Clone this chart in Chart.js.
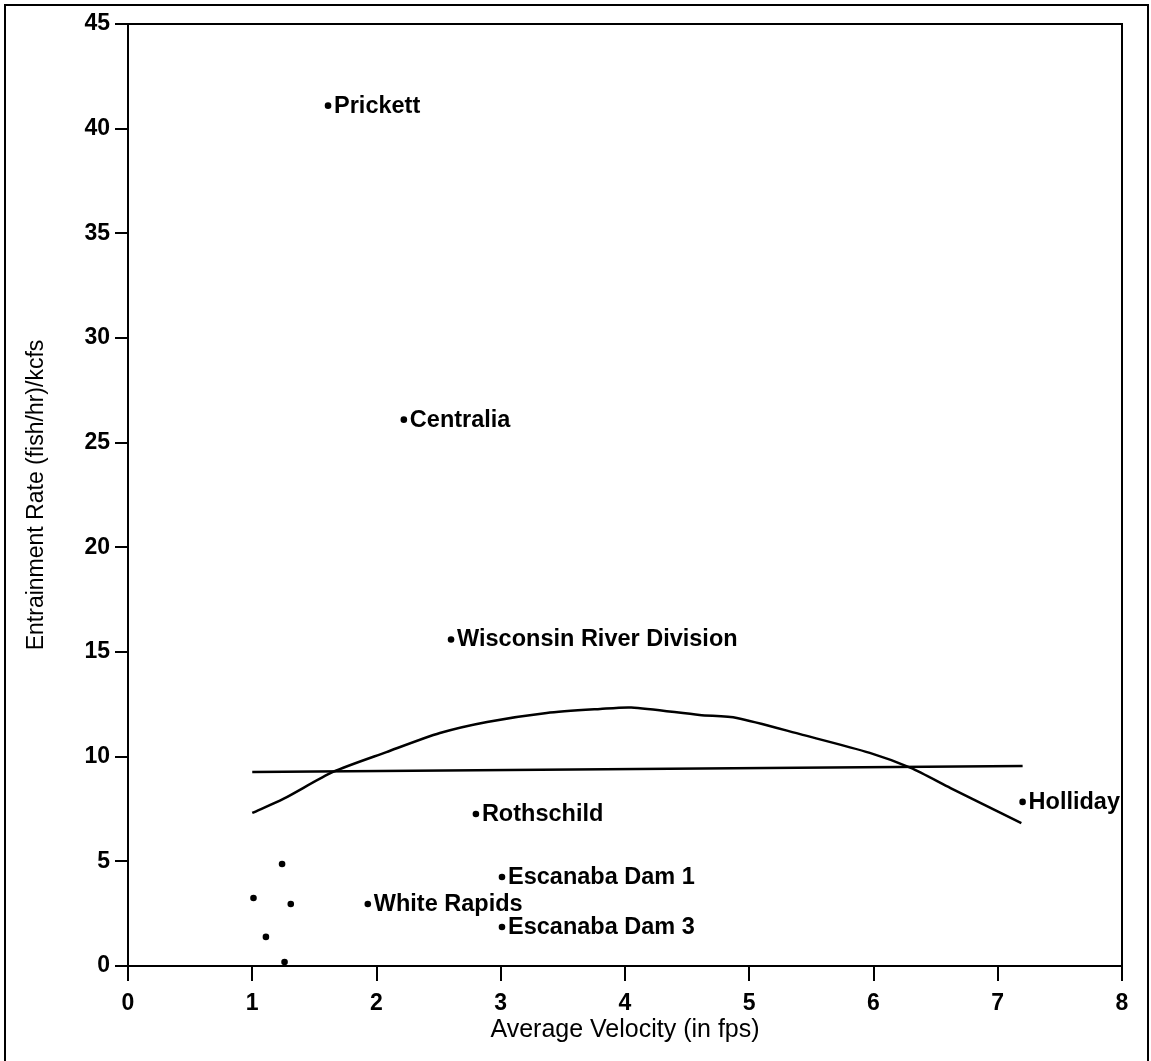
<!DOCTYPE html>
<html>
<head>
<meta charset="utf-8">
<script src="https://cdn.jsdelivr.net/npm/chart.js@4"></script>
<style>
  html, body { margin: 0; padding: 0; background: #fff; }
  #wrap { width: 1151px; height: 1061px; position: relative; }
</style>
</head>
<body>
<div id="wrap"><canvas id="c" width="1151" height="1061"></canvas></div>
<script>
// ---- Data ----
const siteNames = ['Prickett', 'Centralia', 'Wisconsin River Division', 'Rothschild',
  'Escanaba Dam 1', 'White Rapids', 'Escanaba Dam 3', 'Holliday', '', '', '', '', ''];
const siteVelocity = [1.61, 2.22, 2.60, 2.80, 3.01, 1.93, 3.01, 7.20, 1.24, 1.01, 1.31, 1.11, 1.26];
const siteRate = [41.1, 26.1, 15.6, 7.26, 4.25, 2.96, 1.86, 7.84, 4.87, 3.25, 2.96, 1.39, 0.19];

const curveVelocity = [1.0, 1.25, 1.65, 2.08, 2.51, 2.89, 3.37, 3.80, 4.05, 4.60, 4.90, 5.43, 5.97, 6.30, 6.62, 7.19];
const curveRate = [7.31, 7.98, 9.27, 10.22, 11.13, 11.66, 12.09, 12.28, 12.35, 11.99, 11.85, 11.04, 10.18, 9.46, 8.50, 6.83];

const linearVelocity = [1.0, 7.2];
const linearRate = [9.27, 9.56];

const xTickValues = [0, 1, 2, 3, 4, 5, 6, 7, 8];
const yTickValues = [0, 5, 10, 15, 20, 25, 30, 35, 40, 45];

const xTitle = 'Average Velocity (in fps)';
const yTitle = 'Entrainment Rate (fish/hr)/kcfs';

// ---- Build ----
const toXY = (xs, ys) => xs.map((x, i) => ({ x: x, y: ys[i] }));

const FONT = "'Liberation Sans', Arial, Helvetica, sans-serif";

const pointLabelPlugin = {
  id: 'pointLabels',
  afterDatasetsDraw(chart) {
    const ctx = chart.ctx;
    const meta = chart.getDatasetMeta(0);
    ctx.save();
    ctx.fillStyle = '#000';
    ctx.font = 'bold 23.5px ' + FONT;
    ctx.textAlign = 'left';
    ctx.textBaseline = 'alphabetic';
    meta.data.forEach((pt, i) => {
      const name = siteNames[i];
      if (!name) return;
      ctx.fillText(name, pt.x + 6, pt.y + 7);
    });
    ctx.restore();
  }
};

const framePlugin = {
  id: 'frame',
  afterDraw(chart) {
    const ctx = chart.ctx;
    const a = chart.chartArea;
    ctx.save();
    ctx.strokeStyle = '#000';
    ctx.lineWidth = 2;
    ctx.beginPath();
    ctx.moveTo(a.left, a.top);
    ctx.lineTo(a.right, a.top);
    ctx.lineTo(a.right, a.bottom);
    ctx.stroke();
    ctx.strokeRect(5, 5, 1143, 1080);
    ctx.restore();
  }
};

new Chart(document.getElementById('c'), {
  type: 'scatter',
  data: {
    datasets: [
      {
        label: 'Sites',
        data: toXY(siteVelocity, siteRate),
        showLine: false,
        pointRadius: 3.3,
        pointBackgroundColor: '#000',
        pointBorderColor: '#000',
        pointBorderWidth: 0
      },
      {
        label: 'Quadratic fit',
        data: toXY(curveVelocity, curveRate),
        showLine: true,
        borderColor: '#000',
        borderWidth: 2.5,
        pointRadius: 0,
        tension: 0.25,
        fill: false
      },
      {
        label: 'Linear fit',
        data: toXY(linearVelocity, linearRate),
        showLine: true,
        borderColor: '#000',
        borderWidth: 2.5,
        pointRadius: 0,
        fill: false
      }
    ]
  },
  options: {
    responsive: false,
    animation: false,
    layout: { padding: { top: 24, right: 29, left: 0, bottom: 0 } },
    plugins: {
      legend: { display: false },
      tooltip: { enabled: false },
      title: { display: false }
    },
    scales: {
      x: {
        type: 'linear',
        min: 0, max: 8,
        afterBuildTicks(scale) { scale.ticks = xTickValues.map(v => ({ value: v })); },
        afterFit(scale) { scale.height = 95; },
        grid: { display: true, drawOnChartArea: false, drawTicks: true, tickLength: 15, color: '#000', lineWidth: 2 },
        border: { display: true, color: '#000', width: 2 },
        ticks: { color: '#000', font: { family: FONT, size: 23, weight: 'bold' }, padding: 9, maxRotation: 0 },
        title: { display: true, text: xTitle, color: '#000', font: { family: FONT, size: 25 }, padding: { top: 0, bottom: 16 } }
      },
      y: {
        type: 'linear',
        min: 0, max: 45,
        afterBuildTicks(scale) { scale.ticks = yTickValues.map(v => ({ value: v })); },
        afterFit(scale) { scale.width = 128; },
        grid: { display: true, drawOnChartArea: false, drawTicks: true, tickLength: 13, color: '#000', lineWidth: 2 },
        border: { display: true, color: '#000', width: 2 },
        ticks: { color: '#000', font: { family: FONT, size: 23, weight: 'bold' }, padding: 5 },
        title: { display: true, text: yTitle, color: '#000', font: { family: FONT, size: 23 }, padding: { top: 23, bottom: 0 } }
      }
    }
  },
  plugins: [pointLabelPlugin, framePlugin]
});
</script>
</body>
</html>
